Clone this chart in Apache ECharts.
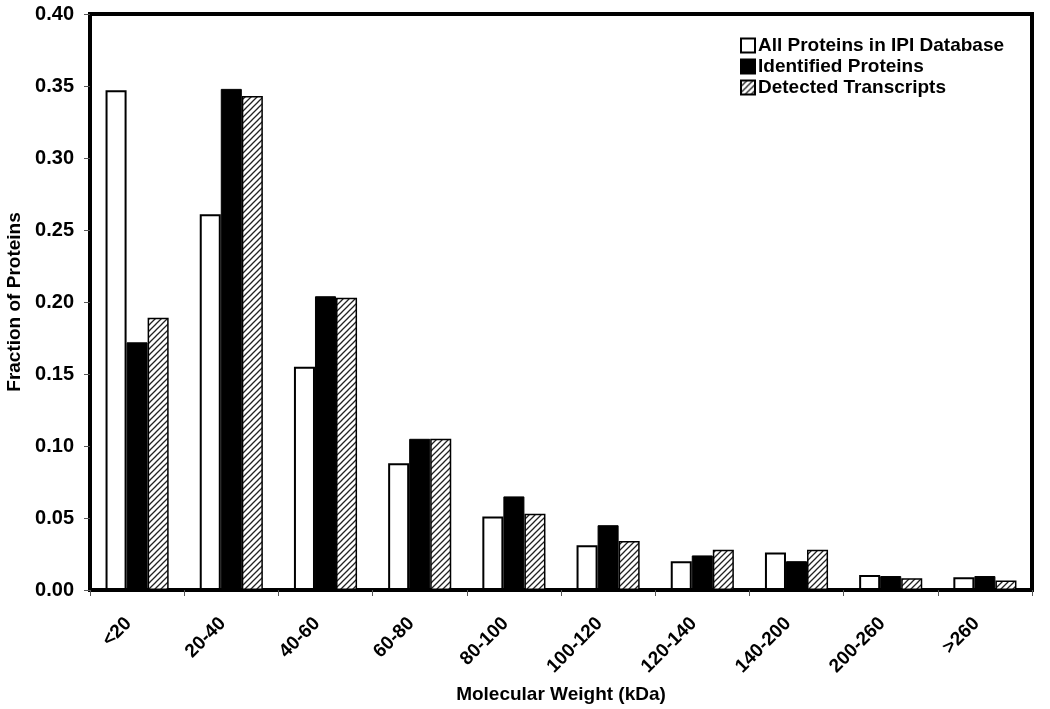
<!DOCTYPE html>
<html>
<head>
<meta charset="utf-8">
<script src="https://cdn.jsdelivr.net/npm/echarts@6/dist/echarts.min.js"></script>
<style>
html,body{margin:0;padding:0;background:#fff;overflow:hidden;}
#chart{width:1050px;height:709px;}
</style>
</head>
<body>
<div id="chart"></div>
<script>
const categories = ['<20','20-40','40-60','60-80','80-100','100-120','120-140','140-200','200-260','>260'];
const allProteins = [0.347,0.261,0.155,0.088,0.051,0.031,0.020,0.026,0.0104,0.0088];
const identifiedProteins = [0.172,0.348,0.204,0.105,0.065,0.045,0.024,0.020,0.0097,0.0097];
const detectedTranscripts = [0.189,0.343,0.203,0.105,0.053,0.034,0.028,0.028,0.0082,0.0066];
const yTicks = [0,0.05,0.10,0.15,0.20,0.25,0.30,0.35,0.40];

function hatch(){
  const c = document.createElement('canvas');
  const s = 6;
  c.width = s; c.height = s;
  const g = c.getContext('2d');
  g.fillStyle = '#fff';
  g.fillRect(0,0,s,s);
  g.strokeStyle = '#222';
  g.lineWidth = 1.3;
  g.beginPath();
  g.moveTo(-1, s+1); g.lineTo(s+1, -1);
  g.moveTo(-1, 1); g.lineTo(1, -1);
  g.moveTo(s-1, s+1); g.lineTo(s+1, s-1);
  g.stroke();
  return c;
}

const font = '"Liberation Sans", Arial, sans-serif';
const chart = echarts.init(document.getElementById('chart'), null, {renderer:'canvas'});
chart.setOption({
  animation:false,
  backgroundColor:'#fff',
  grid:{left:90, right:18, top:14, bottom:119, show:true, borderColor:'#000', borderWidth:4,
    backgroundColor:'transparent', containLabel:false, outerBoundsMode:'none'},
  legend:{
    orient:'vertical', left:735, top:31, itemWidth:14, itemHeight:14, itemGap:2, icon:'rect',
    textStyle:{fontFamily:font, fontWeight:'bold', fontSize:19, color:'#000', padding:[0,0,0,-2]},
    data:['All Proteins in IPI Database','Identified Proteins','Detected Transcripts']
  },
  xAxis:{
    type:'category', data:categories,
    name:'Molecular Weight (kDa)', nameLocation:'middle', nameGap:95,
    nameTextStyle:{fontFamily:font, fontWeight:'bold', fontSize:19, color:'#000'},
    axisLine:{lineStyle:{color:'#000', width:4}},
    axisTick:{show:true, length:6, lineStyle:{color:'#555', width:1}},
    axisLabel:{rotate:45, margin:22, padding:[0,12,0,0], fontFamily:font, fontWeight:'bold', fontSize:19, color:'#000'}
  },
  yAxis:{
    type:'value', min:0, max:0.40, interval:0.05,
    name:'Fraction of Proteins', nameLocation:'middle', nameGap:60,
    nameTextStyle:{fontFamily:font, fontWeight:'bold', fontSize:19, color:'#000'},
    axisLine:{show:true, lineStyle:{color:'#000', width:4}},
    axisTick:{show:true, length:6, lineStyle:{color:'#555', width:1}},
    splitLine:{show:false},
    axisLabel:{margin:16, fontFamily:font, fontWeight:'bold', fontSize:20, color:'#000',
      formatter:v=>v.toFixed(2)}
  },
  series:[
    {name:'All Proteins in IPI Database', type:'bar', data:allProteins, barGap:'0%', barCategoryGap:'33%',
      itemStyle:{color:'#fff', borderColor:'#000', borderWidth:2}},
    {name:'Identified Proteins', type:'bar', data:identifiedProteins,
      itemStyle:{color:'#000', borderColor:'#000', borderWidth:1}},
    {name:'Detected Transcripts', type:'bar', data:detectedTranscripts,
      itemStyle:{color:{image:hatch(), repeat:'repeat'}, borderColor:'#000', borderWidth:1.5}}
  ]
});
</script>
</body>
</html>
